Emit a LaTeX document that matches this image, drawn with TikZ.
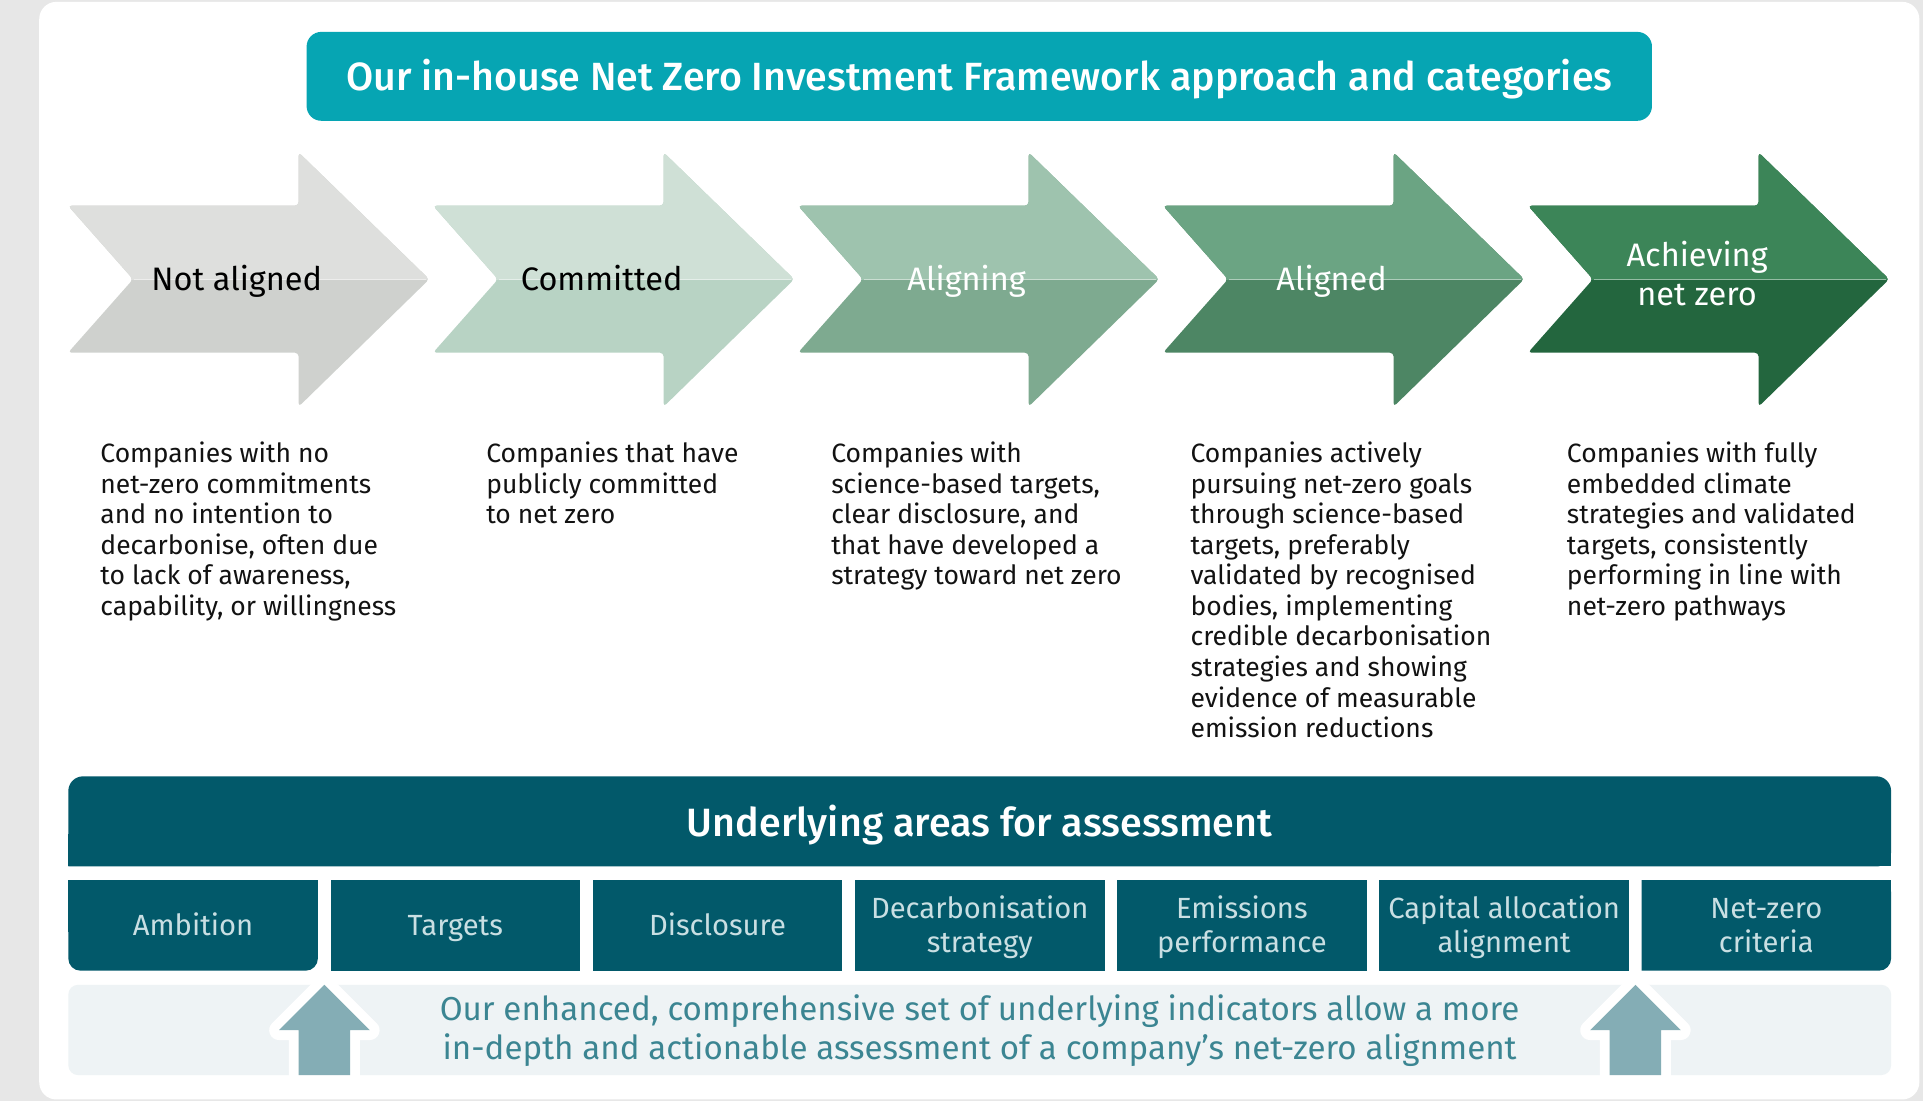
\documentclass[tikz,border=0pt]{standalone}
\usepackage{fontspec}
\setmainfont{Fira Sans}
\newfontfamily\medfont{Fira Sans Medium}
\definecolor{bggray}{HTML}{E7E7E7}
\definecolor{titleteal}{HTML}{06A5B3}
\definecolor{aonet}{HTML}{DEDFDD}\definecolor{aoneb}{HTML}{CFD1CE}
\definecolor{atwot}{HTML}{CFE0D6}\definecolor{atwob}{HTML}{B8D3C4}
\definecolor{athreet}{HTML}{9EC3AE}\definecolor{athreeb}{HTML}{7EAA90}
\definecolor{afourt}{HTML}{6BA483}\definecolor{afourb}{HTML}{4D8664}
\definecolor{afivet}{HTML}{3C8558}\definecolor{afiveb}{HTML}{23663E}
\definecolor{darkteal}{HTML}{02596A}
\definecolor{boxtext}{HTML}{C9DFE3}
\definecolor{bandfill}{HTML}{EEF3F5}
\definecolor{bandtext}{HTML}{3B8592}
\definecolor{uparrowc}{HTML}{84ADB5}
\newcommand{\mychevpath}[1]{(#1,167.7) -- (#1+53,227.7) -- (#1,287.6) -- (#1+188,287.6) -- (#1+188,331.6) -- (#1+294.5,227.7) -- (#1+188,124.2) -- (#1+188,167.7) -- cycle}
\newcommand{\mychev}[3]{%
  \fill[#3, rounded corners=3] \mychevpath{#1};
  \begin{scope}
    \clip (#1-5,100) rectangle (#1+300,227.7);
    \fill[#2, rounded corners=3] \mychevpath{#1};
  \end{scope}
  \draw[#2!55!white, line width=0.8] (#1+54,227.7) -- (#1+292,227.7);
}
\newcommand{\myuppath}[1]{(#1,803) -- (#1+37,840) -- (#1+21,840) -- (#1+21,876.6) -- (#1-21,876.6) -- (#1-21,840) -- (#1-37,840) -- cycle}
\newcommand{\myup}[1]{%
  \draw[white, line width=16, line join=round] \myuppath{#1};
  \fill[uparrowc] \myuppath{#1};
}
\tikzset{
  desc/.style={anchor=base west, inner sep=0pt, text=black!93},
  chevlabel/.style={anchor=base, inner sep=0pt, font=\fontsize{26.5}{31.3}\selectfont},
  sublabel/.style={anchor=base, inner sep=0pt, text=boxtext, font=\fontsize{23.8}{27.2}\selectfont}
}
\newcommand{\desctext}[1]{\parbox[t]{300pt}{\fontsize{21.6}{24.9}\selectfont\raggedright #1}}
\newcommand{\subtext}[1]{\parbox[t]{210pt}{\centering #1}}
\begin{document}
\begin{tikzpicture}[x=1pt,y=-1pt]
\fill[bggray] (0,0) rectangle (1568,897.7);
\useasboundingbox (0,0) rectangle (1568,897.7);
\fill[white, rounded corners=14] (32,1.5) rectangle (1565,896.5);
% title
\fill[titleteal, rounded corners=12] (250,26) rectangle (1347,98.5);
\node[anchor=base, inner sep=0pt, text=white, font=\medfont\fontsize{32.1}{38}\selectfont] (title) at (798.5,73.4) {Our in-house Net Zero Investment Framework approach and categories};
% chevrons
\mychev{55.5}{aonet}{aoneb}
\mychev{353.1}{atwot}{atwob}
\mychev{650.7}{athreet}{athreeb}
\mychev{948.3}{afourt}{afourb}
\mychev{1245.9}{afivet}{afiveb}
\node[chevlabel, text=black] (l1) at (193,236.5) {Not aligned};
\node[chevlabel, text=black] (l2) at (490.6,236.5) {Committed};
\node[chevlabel, text=white] (l3) at (788.2,236.5) {Aligning};
\node[chevlabel, text=white] (l4) at (1085.8,236.5) {Aligned};
\node[chevlabel, text=white] (l5) at (1383.8,217.4) {\parbox[t]{200pt}{\centering Achieving\\net zero}};
% descriptions
\node[desc] (d1) at (81.7,377.3) {\desctext{Companies with no\\net-zero commitments\\and no intention to\\decarbonise, often due\\to lack of awareness,\\capability, or willingness}};
\node[desc] (d2) at (396.3,377.3) {\desctext{Companies that have\\publicly committed\\to net zero}};
\node[desc] (d3) at (677.6,377.3) {\desctext{Companies with\\science-based targets,\\clear disclosure, and\\that have developed a\\strategy toward net zero}};
\node[desc] (d4) at (970.6,377.3) {\desctext{Companies actively\\pursuing net-zero goals\\through science-based\\targets, preferably\\validated by recognised\\bodies, implementing\\credible decarbonisation\\strategies and showing\\evidence of measurable\\emission reductions}};
\node[desc] (d5) at (1277.5,377.3) {\desctext{Companies with fully\\embedded climate\\strategies and validated\\targets, consistently\\performing in line with\\net-zero pathways}};
% underlying header
\fill[darkteal, rounded corners=12] (55.7,706.5) -- (55.7,633) -- (1542,633) -- (1542,706.5) [sharp corners] -- cycle;
\fill[darkteal] (55.7,680) rectangle (1542,706.5);
\node[anchor=base, inner sep=0pt, text=white, font=\medfont\fontsize{32.2}{38}\selectfont] (under) at (798.8,681.7) {Underlying areas for assessment};
% sub boxes
\fill[darkteal, rounded corners=10] (55.7,717.6) -- (55.7,791.5) -- (259.2,791.5) [sharp corners] -- (259.2,717.6) -- cycle;
\fill[darkteal] (55.7,717.6) rectangle (259.2,760);
\fill[darkteal] (269.5,717.6) rectangle (473,791.5);
\fill[darkteal] (483.3,717.6) rectangle (686.8,791.5);
\fill[darkteal] (697.1,717.6) rectangle (900.6,791.5);
\fill[darkteal] (910.9,717.6) rectangle (1114.4,791.5);
\fill[darkteal] (1124.7,717.6) rectangle (1328.2,791.5);
\fill[darkteal, rounded corners=10] (1338.5,791.5) -- (1542,791.5) -- (1542,717.6) [sharp corners] -- (1338.5,717.6) -- cycle;
\fill[darkteal] (1338.5,717.6) rectangle (1542,760);
\node[sublabel] (s1) at (157.45,762.9) {Ambition};
\node[sublabel] (s2) at (371.25,762.9) {Targets};
\node[sublabel] (s3) at (585.05,762.9) {Disclosure};
\node[sublabel] (s4) at (798.85,749.3) {\subtext{Decarbonisation\\strategy}};
\node[sublabel] (s5) at (1012.65,749.3) {\subtext{Emissions\\performance}};
\node[sublabel] (s6) at (1226.45,749.3) {\subtext{Capital allocation\\alignment}};
\node[sublabel] (s7) at (1440.25,749.3) {\subtext{Net-zero\\criteria}};
% bottom band
\fill[bandfill, rounded corners=8] (55.7,803) rectangle (1542,876.6);
\myup{264.5}
\myup{1333.5}
\node[anchor=base, inner sep=0pt, text=bandtext, font=\fontsize{27}{31.3}\selectfont] (band) at (798.8,832.2) {\parbox[t]{1000pt}{\centering Our enhanced, comprehensive set of underlying indicators allow a more\\in-depth and actionable assessment of a company’s net-zero alignment}};
\end{tikzpicture}
\end{document}
